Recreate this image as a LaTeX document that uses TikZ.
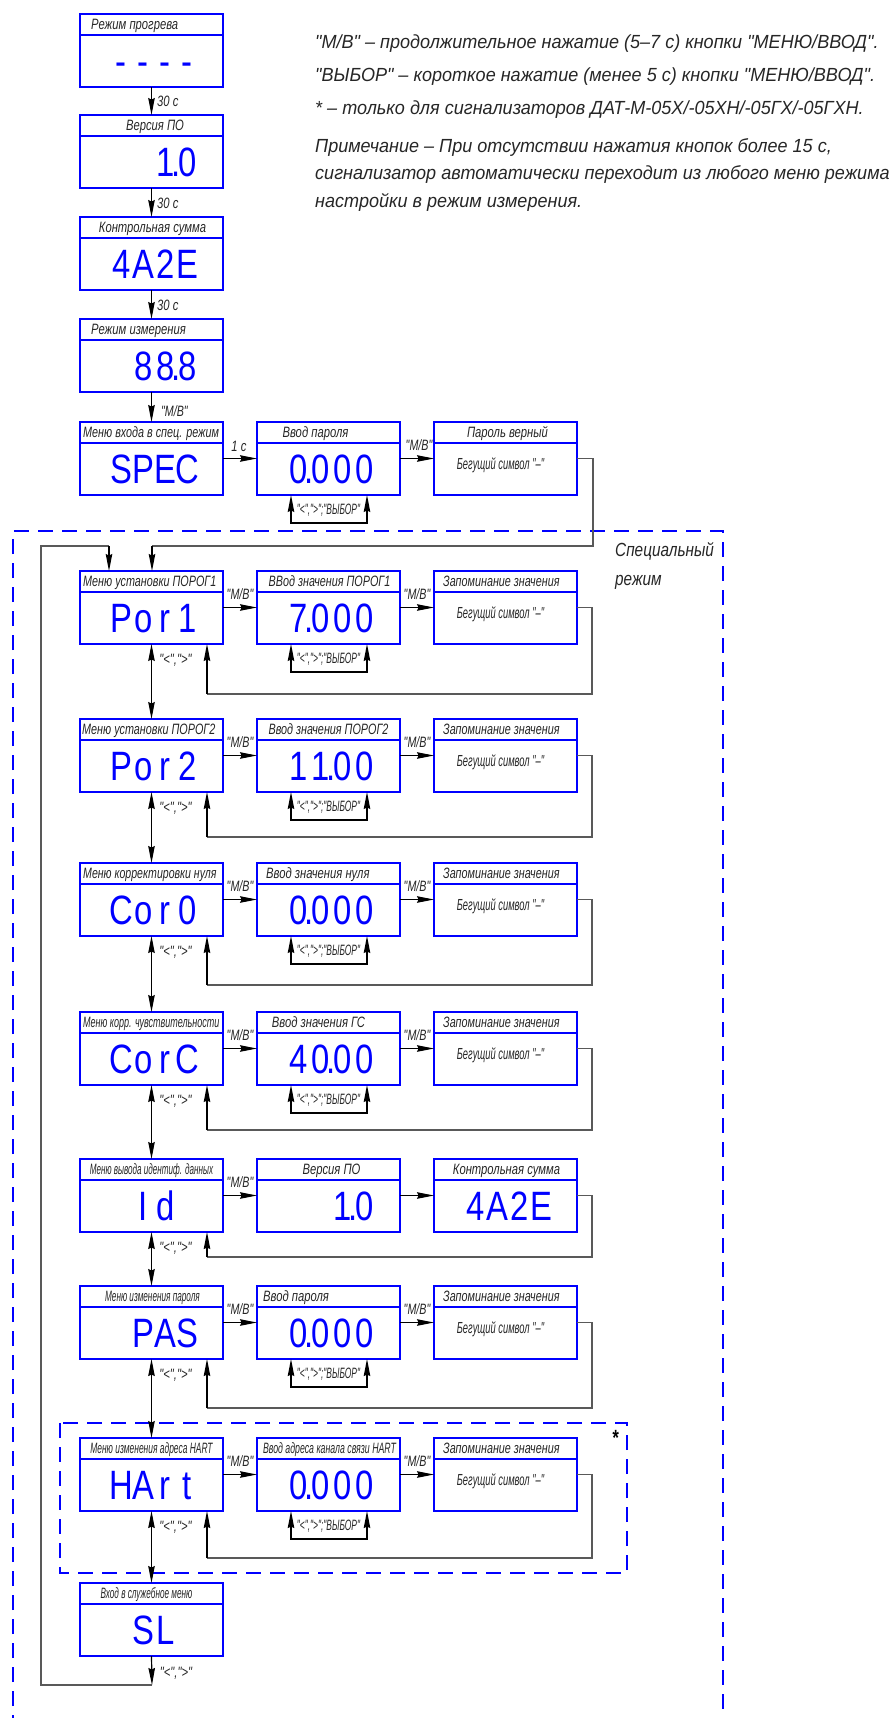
\documentclass[tikz,border=0pt]{standalone}
\usepackage{fontspec}
\usepackage{graphicx}
\usetikzlibrary{arrows.meta,calc}
\newfontfamily\gfont[FakeStretch=0.75]{Liberation Sans}
\newfontfamily\gwide[FakeStretch=0.95]{Liberation Sans}
\newfontfamily\segfont[FakeStretch=0.8]{Liberation Sans}
\newcommand\sg[1]{\makebox[22pt]{#1}}
\newcommand\sgd{\makebox[0pt]{.}}
\newcommand\sx[2]{\scalebox{#1}[1]{#2}}
\definecolor{lblue}{RGB}{0,0,255}
\tikzset{
  pbox/.style={draw=lblue, line width=2.6pt, minimum width=143pt, minimum height=73pt, inner sep=0pt, outer sep=0pt, anchor=north west},
  hsep/.style={draw=lblue, line width=2.6pt},
  hdr/.style={font=\gfont\itshape\fontsize{15}{15}\selectfont, inner sep=0pt, text=black!85},
  seg/.style={font=\segfont\fontsize{41}{41}\selectfont, text=lblue, inner sep=0pt, anchor=base east},
  lbl/.style={font=\gfont\itshape\fontsize{15}{15}\selectfont, inner sep=0pt, text=black!85},
  body/.style={font=\gfont\itshape\fontsize{16}{16}\selectfont, inner sep=0pt, text=black!85},
  ann/.style={font=\gwide\itshape\fontsize{19}{19}\selectfont, inner sep=0pt, anchor=base west, text=black!85},
  arr/.style={draw=black, line width=1.2pt, -{Stealth[length=17pt,width=6.5pt,inset=1.5pt]}},
  darr/.style={draw=black, line width=1.2pt, {Stealth[length=17pt,width=6.5pt,inset=1.5pt]}-{Stealth[length=17pt,width=6.5pt,inset=1.5pt]}},
  fb/.style={draw=black!65, line width=1.2pt},
  dsh/.style={draw=lblue, line width=2.6pt, dash pattern=on 15pt off 9pt},
}
\newcommand\panel[3]{%
  \node[pbox] (#1) at (#2,#3) {};
  \draw[hsep] ([yshift=-21pt]#1.north west) -- ([yshift=-21pt]#1.north east);
}
\newcommand\hc[3]{\node[hdr,anchor=base] (#1h) at ([xshift=#2pt,yshift=-15.5pt]#1.north) {#3};}
\newcommand\hl[3]{\node[hdr,anchor=base west] (#1h) at ([xshift=#2pt,yshift=-15.5pt]#1.north west) {#3};}
\newcommand\dsp[2]{\node[seg] (#1d) at ([xshift=-24.5pt,yshift=-61.5pt]#1.north east) {#2};}
\newcommand\bdy[1]{\node[body,anchor=base] (#1b) at ([xshift=-5pt,yshift=-47pt]#1.north) {\sx{0.78}{Бегущий символ "–"}};}
\newcommand\sel[1]{%
  \draw[darr] ([xshift=-37.5pt]#1.south) -- ++(0,28) -- ++(76,0) -- ++(0,-28);
  \node[lbl] (#1s) at ([yshift=-15pt]#1.south) {\sx{0.75}{"<",">";"ВЫБОР"}};
}
\newcommand\lr[2]{%
  \draw[darr] (#1.south) -- (#2.north);
  \node[lbl] (#1lr) at ([xshift=24pt,yshift=-16pt]#1.south) {"<",">"};
}
\newcommand\fbk[4]{% R node, L node, y, name
  \coordinate (#4) at (207,#3);
  \draw[fb] (#1.east) -- ++(15,0) |- (#4);
  \draw[arr] (#4) -- (#4 |- #2.south);
}
\newcommand\mv[1]{\node[lbl] (#1mv) at ([xshift=17pt,yshift=13pt]#1.east) {\sx{0.95}{"М/В"}};}
\begin{document}
\begin{tikzpicture}[x=1pt,y=-1pt]
\useasboundingbox (0,0) rectangle (896,1718);

% annotation
\node[ann] (a1) at (315,49) {"М/В" – продолжительное нажатие (5–7 с) кнопки "МЕНЮ/ВВОД".};
\node[ann] (a2) at (315,82) {"ВЫБОР" – короткое нажатие (менее 5 с) кнопки "МЕНЮ/ВВОД".};
\node[ann] (a3) at (315,115) {* – только для сигнализаторов ДАТ-М-05Х/-05ХН/-05ГХ/-05ГХН.};
\node[ann] (a4) at (315,152) {Примечание – При отсутствии нажатия кнопок более 15 с,};
\node[ann] (a5) at (315,179) {сигнализатор автоматически переходит из любого меню режима};
\node[ann] (a6) at (315,207) {настройки в режим измерения.};

% dashed frames
\draw[dsh] (13,1730) -- (13,531) -- (723,531) -- (723,1730);
\node[ann] (sp1) at (615,556) {\sx{0.85}{Специальный}};
\node[ann] (sp2) at (615,585) {\sx{0.85}{режим}};
\draw[dsh] (60,1423) rectangle (627,1573);
\node[font=\gfont\bfseries\itshape\fontsize{22}{22}\selectfont, inner sep=0pt] (star) at (615,1438) {*};

% top chain
\panel{r1}{80}{14}\hl{r1}{11}{Режим прогрева}\dsp{r1}{\sg{-}\sg{-}\sg{-}\sg{-}}
\panel{r2}{80}{115}\hc{r2}{3.5}{Версия ПО}\dsp{r2}{\sg{1}\sgd\sg{0}}
\panel{r3}{80}{217}\hc{r3}{1}{Контрольная сумма}\dsp{r3}{\sg{4}\sg{A}\sg{2}\sg{E}}
\panel{r4}{80}{319}\hl{r4}{11}{Режим измерения}\dsp{r4}{\sg{8}\sg{8}\sgd\sg{8}}
\draw[arr] (r1.south) -- (r2.north); \node[lbl,anchor=west] (t1) at (157,101) {30 с};
\draw[arr] (r2.south) -- (r3.north); \node[lbl,anchor=west] (t2) at (157,203) {30 с};
\draw[arr] (r3.south) -- (r4.north); \node[lbl,anchor=west] (t3) at (157,305) {30 с};

% SPEC row
\panel{sL}{80}{422}\hl{sL}{3}{\sx{0.96}{Меню входа в спец. режим}}\dsp{sL}{\sg{S}\sg{P}\sg{E}\sg{C}}
\panel{sM}{257}{422}\hc{sM}{-13}{Ввод пароля}\dsp{sM}{\sg{0}\sgd\sg{0}\sg{0}\sg{0}}
\panel{sR}{434}{422}\hc{sR}{2}{Пароль верный}\bdy{sR}
\draw[arr] (r4.south) -- (sL.north); \node[lbl,anchor=west] (t4) at (161,411) {\sx{0.95}{"М/В"}};
\draw[arr] (sL.east) -- (sM.west); \node[lbl] (t5) at (239,446) {1 с};
\draw[arr] (sM.east) -- (sR.west); \node[lbl] (t6) at (419,445) {\sx{0.95}{"М/В"}};
\sel{sM}

% Por1
\panel{aL}{80}{571}\hl{aL}{3}{\sx{0.96}{Меню установки ПОРОГ1}}\dsp{aL}{\sg{P}\sg{o}\sg{r}\sg{1}}
\panel{aM}{257}{571}\hc{aM}{1}{\sx{0.96}{ВВод значения ПОРОГ1}}\dsp{aM}{\sg{7}\sgd\sg{0}\sg{0}\sg{0}}
\panel{aR}{434}{571}\hl{aR}{9}{\sx{0.96}{Запоминание значения}}\bdy{aR}
\draw[arr] (aL.east) -- (aM.west); \mv{aL}
\draw[arr] (aM.east) -- (aR.west); \mv{aM}
\sel{aM}
\coordinate (topR) at (152,546);
\draw[fb] (sR.east) -- ++(16,0) |- (topR);
\draw[arr] (topR) -- (topR |- aL.north);

% Por2
\panel{bL}{80}{719}\hl{bL}{2}{\sx{0.96}{Меню установки ПОРОГ2}}\dsp{bL}{\sg{P}\sg{o}\sg{r}\sg{2}}
\panel{bM}{257}{719}\hc{bM}{0}{\sx{0.96}{Ввод значения ПОРОГ2}}\dsp{bM}{\sg{1}\sg{1}\sgd\sg{0}\sg{0}}
\panel{bR}{434}{719}\hl{bR}{9}{\sx{0.96}{Запоминание значения}}\bdy{bR}
\draw[arr] (bL.east) -- (bM.west); \mv{bL}
\draw[arr] (bM.east) -- (bR.west); \mv{bM}
\sel{bM}
\lr{aL}{bL}
\fbk{aR}{aL}{694}{fa}

% Cor0
\panel{cL}{80}{863}\hl{cL}{3}{\sx{0.94}{Меню корректировки нуля}}\dsp{cL}{\sg{C}\sg{o}\sg{r}\sg{0}}
\panel{cM}{257}{863}\hl{cM}{9}{Ввод значения нуля}\dsp{cM}{\sg{0}\sgd\sg{0}\sg{0}\sg{0}}
\panel{cR}{434}{863}\hl{cR}{9}{\sx{0.96}{Запоминание значения}}\bdy{cR}
\draw[arr] (cL.east) -- (cM.west); \mv{cL}
\draw[arr] (cM.east) -- (cR.west); \mv{cM}
\sel{cM}
\lr{bL}{cL}
\fbk{bR}{bL}{837}{fb}

% CorC
\panel{dL}{80}{1012}\hl{dL}{3}{\sx{0.8}{Меню корр. чувствительности}}\dsp{dL}{\sg{C}\sg{o}\sg{r}\sg{C}}
\panel{dM}{257}{1012}\hc{dM}{-10}{Ввод значения ГС}\dsp{dM}{\sg{4}\sg{0}\sgd\sg{0}\sg{0}}
\panel{dR}{434}{1012}\hl{dR}{9}{\sx{0.96}{Запоминание значения}}\bdy{dR}
\draw[arr] (dL.east) -- (dM.west); \mv{dL}
\draw[arr] (dM.east) -- (dR.west); \mv{dM}
\sel{dM}
\lr{cL}{dL}
\fbk{cR}{cL}{985}{fc}

% Id
\panel{eL}{80}{1159}\hc{eL}{0}{\sx{0.72}{Меню вывода идентиф. данных}}\dsp{eL}{\sg{I}\sg{d}\phantom{\sg{0}}}
\panel{eM}{257}{1159}\hc{eM}{3}{Версия ПО}\dsp{eM}{\sg{1}\sgd\sg{0}}
\panel{eR}{434}{1159}\hc{eR}{1}{Контрольная сумма}\dsp{eR}{\sg{4}\sg{A}\sg{2}\sg{E}}
\draw[arr] (eL.east) -- (eM.west); \mv{eL}
\draw[arr] (eM.east) -- (eR.west);
\lr{dL}{eL}
\fbk{dR}{dL}{1130}{fd}

% PAS
\panel{fL}{80}{1286}\hc{fL}{1}{\sx{0.73}{Меню изменения пароля}}\dsp{fL}{\sg{P}\sg{A}\sg{S}}
\panel{fM}{257}{1286}\hl{fM}{6}{Ввод пароля}\dsp{fM}{\sg{0}\sgd\sg{0}\sg{0}\sg{0}}
\panel{fR}{434}{1286}\hl{fR}{9}{\sx{0.96}{Запоминание значения}}\bdy{fR}
\draw[arr] (fL.east) -- (fM.west); \mv{fL}
\draw[arr] (fM.east) -- (fR.west); \mv{fM}
\sel{fM}
\lr{eL}{fL}
\fbk{eR}{eL}{1257}{fe}

% HArt
\panel{gL}{80}{1438}\hc{gL}{0}{\sx{0.75}{Меню изменения адреса HART}}\dsp{gL}{\sg{H}\sg{A}\sg{r}\sg{t}}
\panel{gM}{257}{1438}\hc{gM}{1}{\sx{0.78}{Ввод адреса канала связи HART}}\dsp{gM}{\sg{0}\sgd\sg{0}\sg{0}\sg{0}}
\panel{gR}{434}{1438}\hl{gR}{9}{\sx{0.96}{Запоминание значения}}\bdy{gR}
\draw[arr] (gL.east) -- (gM.west); \mv{gL}
\draw[arr] (gM.east) -- (gR.west); \mv{gM}
\sel{gM}
\lr{fL}{gL}
\fbk{fR}{fL}{1408}{ff}

% SL
\panel{hL}{80}{1583}\hc{hL}{-5}{\sx{0.73}{Вход в служебное меню}}\dsp{hL}{\sg{S}\sg{L}\phantom{\sg{0}}}
\lr{gL}{hL}
\fbk{gR}{gL}{1558}{fg}
\coordinate (slb) at (152,1685);
\draw[arr] (hL.south) -- (slb);
\node[lbl] (slbl) at (176,1673) {"<",">"};
\coordinate (topL) at (109,546);
\draw[fb] (slb) -- (41,1685) -- (41,546) -- (topL);
\draw[arr] (topL) -- (topL |- aL.north);
\end{tikzpicture}
\end{document}
